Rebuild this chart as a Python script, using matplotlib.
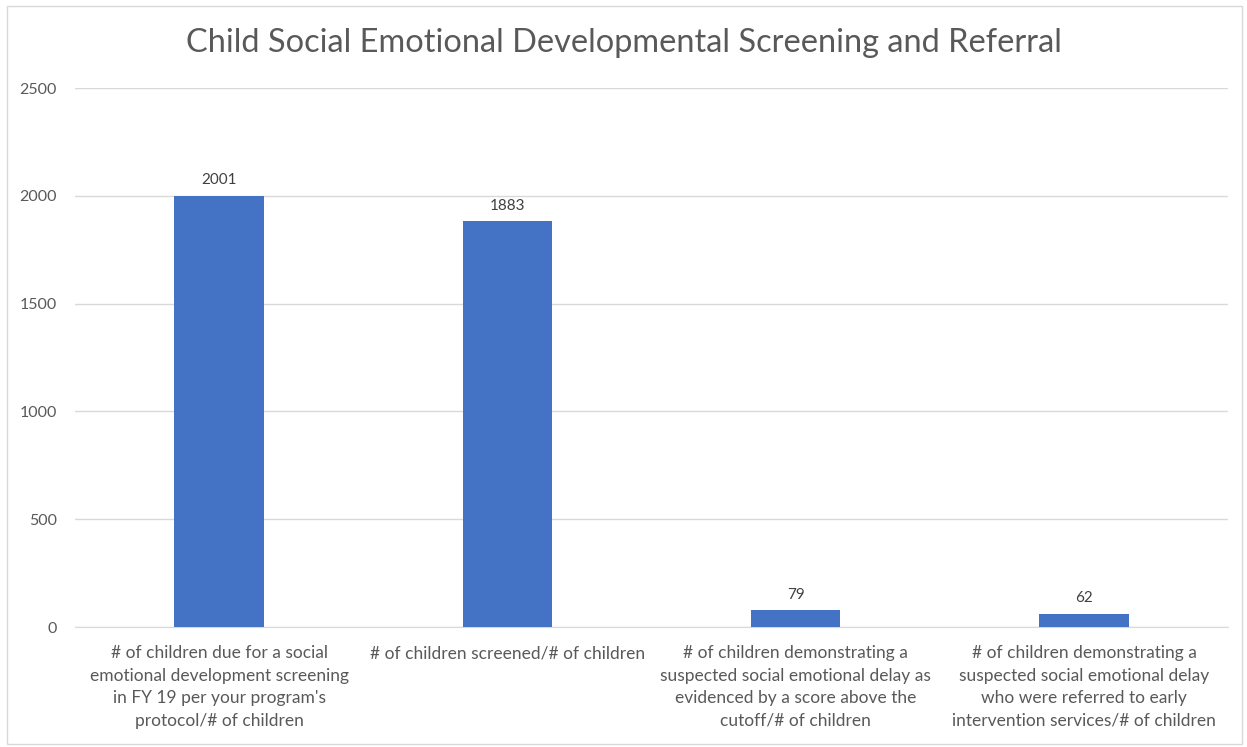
import matplotlib.pyplot as plt
from matplotlib.patches import Rectangle

# data
categories = [
    "# of children due for a social\nemotional development screening\nin FY 19 per your program's\nprotocol/# of children",
    "# of children screened/# of children",
    "# of children demonstrating a\nsuspected social emotional delay as\nevidenced by a score above the\ncutoff/# of children",
    "# of children demonstrating a\nsuspected social emotional delay\nwho were referred to early\nintervention services/# of children",
]
values = [2001, 1883, 79, 62]
yticks = [0, 500, 1000, 1500, 2000, 2500]

plt.rcParams['font.family'] = ['Lato', 'DejaVu Sans']

fig = plt.figure(figsize=(12.47, 7.47), dpi=100)
ax = fig.add_axes([0.060, 0.1606, 0.925, 0.7215])

x = list(range(len(values)))
bars = ax.bar(x, values, width=0.31, color='#4472C4', zorder=3)

for xi, v in zip(x, values):
    ax.annotate(str(v), (xi, v), xytext=(0, 6), textcoords='offset points',
                ha='center', va='bottom', fontsize=11, color='#404040')

ax.set_xlim(-0.5, 3.5)
ax.set_ylim(0, 2500)
ax.set_yticks(yticks)
ax.set_yticklabels([str(t) for t in yticks], fontsize=11.5, color='#595959')
ax.set_xticks(x)
ax.set_xticklabels(categories, fontsize=12.5, color='#595959', linespacing=1.5)
ax.tick_params(axis='x', length=0, pad=13)
ax.tick_params(axis='y', length=0, pad=13)

ax.grid(axis='y', color='#d9d9d9', linewidth=1, zorder=0)
for s in ['top', 'right', 'left']:
    ax.spines[s].set_visible(False)
ax.spines['bottom'].set_color('#d9d9d9')

fig.text(0.5, 0.942, 'Child Social Emotional Developmental Screening and Referral',
         ha='center', va='center', fontsize=23.4, color='#595959')

# light frame around the chart
fig.patches.append(Rectangle((0.006, 0.004), 0.99, 0.988, transform=fig.transFigure,
                             fill=False, edgecolor='#d9d9d9', linewidth=1))

fig.savefig('out.png', dpi=100)
